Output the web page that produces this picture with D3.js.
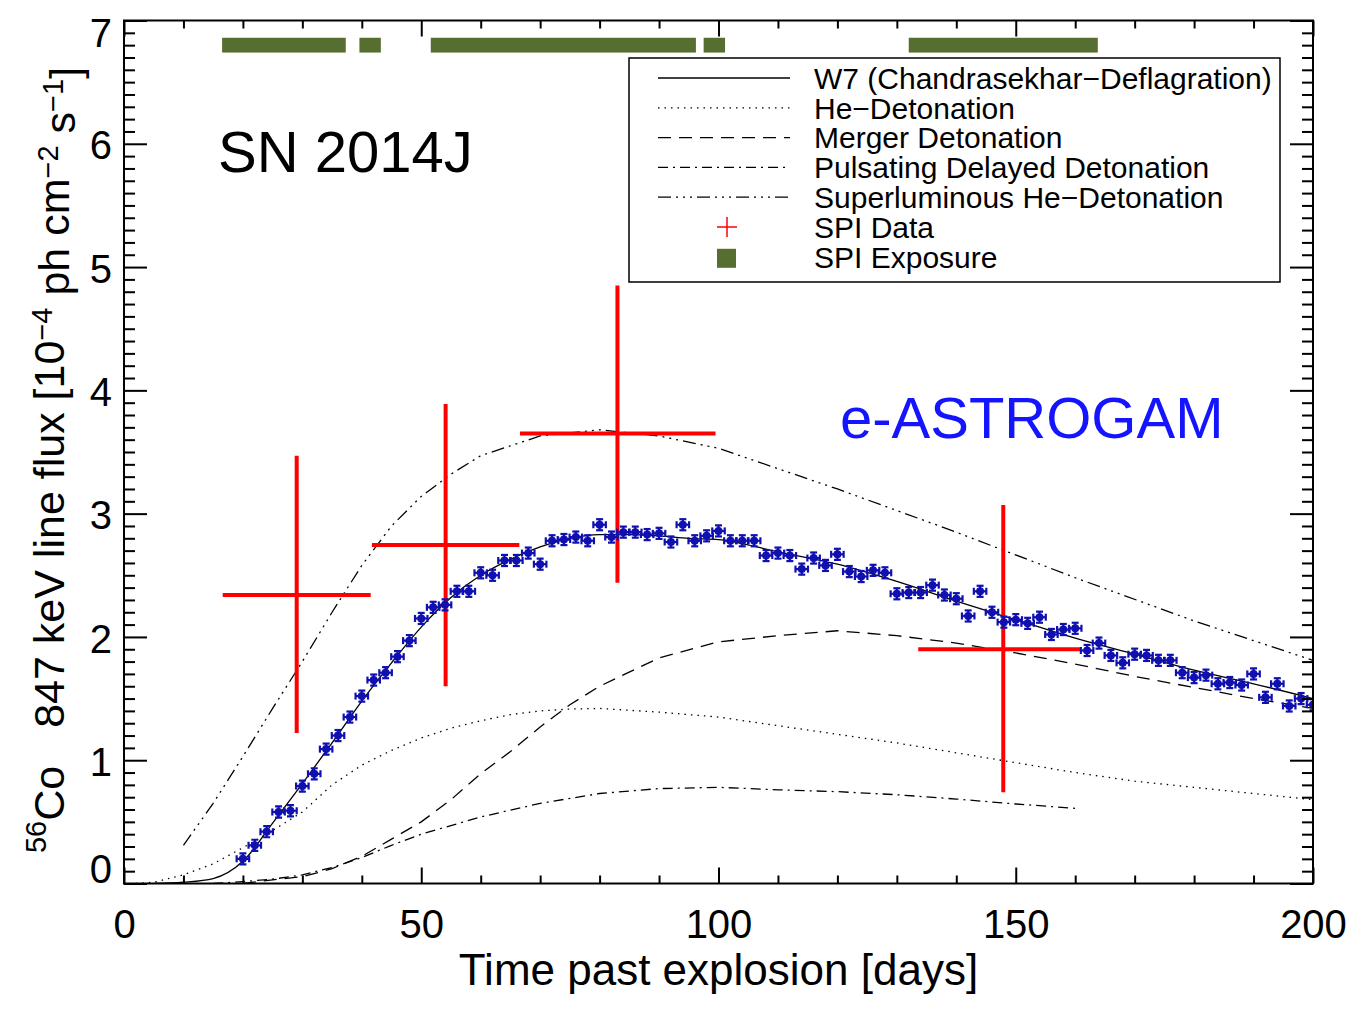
<!DOCTYPE html>
<html>
<head>
<meta charset="utf-8">
<script src="https://cdn.jsdelivr.net/npm/d3@7"></script>
<style>
  body { margin: 0; background: #fff; }
  svg { font-family: 'Liberation Sans', Arial, Helvetica, sans-serif; }
</style>
</head>
<body>
<div id="chart"></div>
<script>
'use strict';

// ---- data ----
// e-ASTROGAM simulated points (days past explosion, flux in 1e-4 ph/cm2/s)
const astroDays = [20, 22, 24, 26, 28, 30, 32, 34, 36, 38, 40, 42, 44, 46, 48, 50, 52, 54, 56, 58,
  60, 62, 64, 66, 68, 70, 72, 74, 76, 78, 80, 82, 84, 86, 88, 90, 92, 94, 96, 98,
  100, 102, 104, 106, 108, 110, 112, 114, 116, 118, 120, 122, 124, 126, 128, 130, 132, 134, 136, 138,
  140, 142, 144, 146, 148, 150, 152, 154, 156, 158, 160, 162, 164, 166, 168, 170, 172, 174, 176, 178,
  180, 182, 184, 186, 188, 190, 192, 194, 196, 198, 200];
const astroFlux = [0.20, 0.31, 0.42, 0.58, 0.59, 0.79, 0.89, 1.09, 1.20, 1.35, 1.52, 1.65, 1.71, 1.84, 1.97, 2.15, 2.24, 2.26, 2.37, 2.37,
  2.52, 2.50, 2.62, 2.62, 2.68, 2.59, 2.78, 2.79, 2.81, 2.78, 2.91, 2.81, 2.85, 2.85, 2.83, 2.84, 2.77, 2.91, 2.78, 2.82,
  2.86, 2.78, 2.78, 2.78, 2.66, 2.68, 2.66, 2.55, 2.64, 2.58, 2.67, 2.53, 2.49, 2.54, 2.52, 2.35, 2.36, 2.36, 2.42, 2.34,
  2.31, 2.17, 2.37, 2.20, 2.12, 2.14, 2.11, 2.16, 2.02, 2.06, 2.07, 1.89, 1.95, 1.85, 1.79, 1.86, 1.85, 1.81, 1.81, 1.71,
  1.67, 1.69, 1.62, 1.63, 1.61, 1.70, 1.51, 1.62, 1.44, 1.50, 1.45];
const astroDayErr = 1.05;
const astroFluxErr = 0.045;

// SPI measurements
const spiDay = [29.05, 54.1, 83.0, 147.9];
const spiDayLo = [16.6, 41.7, 66.6, 133.6];
const spiDayHi = [41.5, 66.5, 99.5, 160.8];
const spiFlux = [2.34, 2.745, 3.65, 1.90];
const spiFluxLo = [1.22, 1.60, 2.44, 0.74];
const spiFluxHi = [3.47, 3.89, 4.85, 3.07];

// SPI exposure periods (days)
const expStart = [16.5, 39.6, 51.6, 97.5, 132.0];
const expEnd = [37.3, 43.2, 96.2, 101.1, 163.8];
const expLevel = 6.8;

// model curves
const w7Days = [5, 10, 15, 20, 25, 30, 35, 40, 45, 50, 55, 60, 65, 70, 75, 80, 85, 90, 95, 100, 110, 120, 130, 140, 150, 160, 170, 180, 190, 200];
const w7Flux = [0, 0.01, 0.04, 0.18, 0.49, 0.81, 1.14, 1.48, 1.79, 2.08, 2.32, 2.50, 2.63, 2.73, 2.80, 2.83, 2.83, 2.82, 2.80, 2.79, 2.69, 2.59, 2.45, 2.29, 2.14, 1.99, 1.86, 1.73, 1.62, 1.50];

const heDays = [2, 5, 10, 15, 20, 25, 30, 35, 40, 45, 50, 55, 60, 65, 70, 75, 80, 90, 100, 110, 120, 130, 140, 150, 160, 170, 180, 190, 200];
const heFlux = [0, 0.01, 0.07, 0.16, 0.29, 0.43, 0.58, 0.80, 0.96, 1.08, 1.18, 1.26, 1.32, 1.37, 1.40, 1.415, 1.42, 1.39, 1.35, 1.28, 1.21, 1.14, 1.06, 0.98, 0.90, 0.83, 0.78, 0.73, 0.68];

const mergerDays = [20, 25, 30, 35, 40, 45, 50, 55, 60, 65, 70, 75, 80, 90, 100, 110, 120, 130, 140, 150, 160, 170, 180, 190, 200];
const mergerFlux = [0, 0.03, 0.055, 0.12, 0.22, 0.36, 0.50, 0.68, 0.89, 1.07, 1.27, 1.45, 1.60, 1.83, 1.96, 2.01, 2.05, 2.01, 1.95, 1.87, 1.78, 1.68, 1.59, 1.50, 1.42];

const pddDays = [15, 20, 25, 30, 35, 40, 45, 50, 55, 60, 70, 80, 90, 100, 110, 120, 130, 140, 150, 160];
const pddFlux = [0, 0.015, 0.035, 0.07, 0.13, 0.21, 0.31, 0.40, 0.47, 0.54, 0.65, 0.73, 0.77, 0.78, 0.76, 0.745, 0.72, 0.685, 0.645, 0.61];

const slDays = [10, 15, 20, 25, 30, 35, 40, 45, 50, 55, 60, 70, 80, 90, 100, 120, 140, 160, 180, 200];
const slFlux = [0.31, 0.65, 1.03, 1.42, 1.80, 2.20, 2.58, 2.90, 3.14, 3.32, 3.47, 3.63, 3.68, 3.63, 3.53, 3.20, 2.85, 2.48, 2.13, 1.81];

// axis ticks
const xMajor = [0, 50, 100, 150, 200];
const yMajor = [0, 1, 2, 3, 4, 5, 6, 7];

const legendLabels = ['W7 (Chandrasekhar\u2212Deflagration)', 'He\u2212Detonation', 'Merger Detonation',
  'Pulsating Delayed Detonation', 'Superluminous He\u2212Detonation', 'SPI Data', 'SPI Exposure'];

// ---- layout ----
const width = 1359, height = 1017;
const plot = { left: 124, right: 1313, top: 20.5, bottom: 883.5 };
const blue = '#1010b0';
const green = '#566e30';

const svg = d3.select('#chart').append('svg')
  .attr('width', width)
  .attr('height', height);

const x = d3.scaleLinear().domain([0, 200]).range([plot.left, plot.right]);
const y = d3.scaleLinear().domain([0, 7]).range([plot.bottom, plot.top]);

svg.append('clipPath').attr('id', 'clip')
  .append('rect')
  .attr('x', plot.left).attr('y', plot.top)
  .attr('width', plot.right - plot.left).attr('height', plot.bottom - plot.top);

const models = [
  { days: w7Days, flux: w7Flux, dash: null, curve: d3.curveMonotoneX },
  { days: heDays, flux: heFlux, dash: '1.5,5', curve: d3.curveLinear },
  { days: mergerDays, flux: mergerFlux, dash: '13,8', curve: d3.curveLinear },
  { days: pddDays, flux: pddFlux, dash: '10,5,2,5', curve: d3.curveLinear },
  { days: slDays, flux: slFlux, dash: '13,5,2,5,2,5,2,5', curve: d3.curveLinear }
];

const dataG = svg.append('g').attr('clip-path', 'url(#clip)');

// exposure bars
dataG.append('g')
  .selectAll('rect')
  .data(expStart.map((s, i) => ({ s: s, e: expEnd[i] })))
  .join('rect')
  .attr('x', d => x(d.s))
  .attr('width', d => x(d.e) - x(d.s))
  .attr('y', y(expLevel + 0.06))
  .attr('height', y(expLevel - 0.06) - y(expLevel + 0.06))
  .attr('fill', green);

// model lines
models.forEach(m => {
  const line = d3.line()
    .x((d, i) => x(m.days[i]))
    .y(d => y(d))
    .curve(m.curve);
  dataG.append('path')
    .datum(m.flux)
    .attr('d', line)
    .attr('fill', 'none')
    .attr('stroke', '#000')
    .attr('stroke-width', 1.3)
    .attr('stroke-dasharray', m.dash);
});

// SPI crosses
const spi = spiDay.map((d, i) => ({ d: d, lo: spiDayLo[i], hi: spiDayHi[i], v: spiFlux[i], vlo: spiFluxLo[i], vhi: spiFluxHi[i] }));
const spiG = dataG.append('g').attr('stroke', '#ff0000').attr('stroke-width', 4);
spiG.selectAll('.h').data(spi).join('line').attr('class', 'h')
  .attr('x1', d => x(d.lo)).attr('x2', d => x(d.hi))
  .attr('y1', d => y(d.v)).attr('y2', d => y(d.v));
spiG.selectAll('.v').data(spi).join('line').attr('class', 'v')
  .attr('x1', d => x(d.d)).attr('x2', d => x(d.d))
  .attr('y1', d => y(d.vlo)).attr('y2', d => y(d.vhi));

// e-ASTROGAM points
const pts = astroDays.map((d, i) => ({ d: d, v: astroFlux[i] }));
const ptG = dataG.append('g').attr('stroke', blue).attr('fill', blue).attr('stroke-width', 2.2);
const pt = ptG.selectAll('g').data(pts).join('g');
pt.append('line')
  .attr('x1', d => x(d.d - astroDayErr)).attr('x2', d => x(d.d + astroDayErr))
  .attr('y1', d => y(d.v)).attr('y2', d => y(d.v));
pt.append('line')
  .attr('x1', d => x(d.d)).attr('x2', d => x(d.d))
  .attr('y1', d => y(d.v - astroFluxErr)).attr('y2', d => y(d.v + astroFluxErr));
// caps
pt.append('line')
  .attr('x1', d => x(d.d) - 3.5).attr('x2', d => x(d.d) + 3.5)
  .attr('y1', d => y(d.v - astroFluxErr)).attr('y2', d => y(d.v - astroFluxErr));
pt.append('line')
  .attr('x1', d => x(d.d) - 3.5).attr('x2', d => x(d.d) + 3.5)
  .attr('y1', d => y(d.v + astroFluxErr)).attr('y2', d => y(d.v + astroFluxErr));
pt.append('line')
  .attr('x1', d => x(d.d - astroDayErr)).attr('x2', d => x(d.d - astroDayErr))
  .attr('y1', d => y(d.v) - 3.5).attr('y2', d => y(d.v) + 3.5);
pt.append('line')
  .attr('x1', d => x(d.d + astroDayErr)).attr('x2', d => x(d.d + astroDayErr))
  .attr('y1', d => y(d.v) - 3.5).attr('y2', d => y(d.v) + 3.5);
pt.append('circle')
  .attr('cx', d => x(d.d)).attr('cy', d => y(d.v)).attr('r', 4)
  .attr('stroke', 'none');

// ---- axes (ticks inside, IDL style) ----
const xMinor = d3.range(0, 201, 10).filter(v => !xMajor.includes(v));
const yMinor = d3.range(0, 70.5, 1).map(v => v / 10).filter(v => !yMajor.includes(v));

function styleAxis(g){
  g.select('.domain').remove();
  g.selectAll('.tick line').attr('stroke', '#000').attr('stroke-width', 2);
  g.selectAll('.tick text').attr('fill', '#000');
}

const xAxisG = svg.append('g')
  .attr('transform', `translate(0,${plot.bottom})`)
  .style('font-size', '40px')
  .call(d3.axisBottom(x).tickValues(xMajor).tickSize(-16).tickPadding(26).tickFormat(d3.format('d')))
  .call(styleAxis);
xAxisG.selectAll('.tick text').attr('dy', '0.7em');

svg.append('g')
  .attr('transform', `translate(0,${plot.bottom})`)
  .call(d3.axisBottom(x).tickValues(xMinor).tickSize(-8).tickFormat(''))
  .call(styleAxis);
svg.append('g')
  .attr('transform', `translate(0,${plot.top})`)
  .call(d3.axisTop(x).tickValues(xMajor).tickSize(-16).tickFormat(''))
  .call(styleAxis);
svg.append('g')
  .attr('transform', `translate(0,${plot.top})`)
  .call(d3.axisTop(x).tickValues(xMinor).tickSize(-8).tickFormat(''))
  .call(styleAxis);

const yAxisG = svg.append('g')
  .attr('transform', `translate(${plot.left},0)`)
  .style('font-size', '40px')
  .call(d3.axisLeft(y).tickValues(yMajor).tickSize(-23).tickPadding(12).tickFormat(d3.format('d')))
  .call(styleAxis);
yAxisG.selectAll('.tick text')
  .attr('dy', d => d === 0 ? '-0.02em' : (d === 7 ? '0.66em' : '0.38em'));

svg.append('g')
  .attr('transform', `translate(${plot.left},0)`)
  .call(d3.axisLeft(y).tickValues(yMinor).tickSize(-11).tickFormat(''))
  .call(styleAxis);
svg.append('g')
  .attr('transform', `translate(${plot.right},0)`)
  .call(d3.axisRight(y).tickValues(yMajor).tickSize(-23).tickFormat(''))
  .call(styleAxis);
svg.append('g')
  .attr('transform', `translate(${plot.right},0)`)
  .call(d3.axisRight(y).tickValues(yMinor).tickSize(-11).tickFormat(''))
  .call(styleAxis);

// frame
svg.append('rect')
  .attr('x', plot.left).attr('y', plot.top)
  .attr('width', plot.right - plot.left).attr('height', plot.bottom - plot.top)
  .attr('fill', 'none').attr('stroke', '#000').attr('stroke-width', 2);

// axis titles
svg.append('text')
  .attr('x', (plot.left + plot.right) / 2)
  .attr('y', 985)
  .attr('text-anchor', 'middle')
  .style('font-size', '44px')
  .text('Time past explosion [days]');

const yTitle = svg.append('text')
  .attr('transform', 'translate(58,460) rotate(-90)')
  .attr('text-anchor', 'middle')
  .style('font-size', '43px');
yTitle.append('tspan').attr('dy', '-0.4em').style('font-size', '29px').text('56');
yTitle.append('tspan').attr('dy', '0.4em').text('Co');
yTitle.append('tspan').attr('dx', 38).text('847 keV line flux [10');
yTitle.append('tspan').attr('dy', '-0.4em').style('font-size', '29px').text('\u22124');
yTitle.append('tspan').attr('dy', '0.4em').text(' ph cm');
yTitle.append('tspan').attr('dy', '-0.4em').style('font-size', '29px').text('\u22122');
yTitle.append('tspan').attr('dy', '0.4em').text(' s');
yTitle.append('tspan').attr('dy', '-0.4em').style('font-size', '29px').text('\u22121');
yTitle.append('tspan').attr('dy', '0.4em').text(']');

// annotations
svg.append('text')
  .attr('x', 218).attr('y', 172)
  .style('font-size', '58px')
  .text('SN 2014J');

svg.append('text')
  .attr('x', 840).attr('y', 438)
  .style('font-size', '58px')
  .attr('fill', '#1414ff')
  .text('e-ASTROGAM');

// ---- legend ----
const legend = { x: 629, y: 58, w: 651, h: 224, row0: 78, step: 29.8 };
svg.append('rect')
  .attr('x', legend.x).attr('y', legend.y)
  .attr('width', legend.w).attr('height', legend.h)
  .attr('fill', '#fff').attr('stroke', '#000').attr('stroke-width', 1.5);

const legRows = svg.append('g')
  .selectAll('g')
  .data(legendLabels)
  .join('g')
  .attr('transform', (d, i) => `translate(0,${legend.row0 + i * legend.step})`);

legRows.append('text')
  .attr('x', 814)
  .attr('dy', '0.36em')
  .style('font-size', '30px')
  .text(d => d);

legRows.filter((d, i) => i < models.length)
  .append('line')
  .attr('x1', 658).attr('x2', 790)
  .attr('stroke', '#000').attr('stroke-width', 1.3)
  .attr('stroke-dasharray', (d, i) => models[i].dash);

const spiRow = legRows.filter((d, i) => i === 5);
spiRow.append('line').attr('x1', 717).attr('x2', 737).attr('stroke', '#ff0000').attr('stroke-width', 1.5);
spiRow.append('line').attr('x1', 727).attr('x2', 727).attr('y1', -10).attr('y2', 10).attr('stroke', '#ff0000').attr('stroke-width', 1.5);

legRows.filter((d, i) => i === 6)
  .append('rect')
  .attr('x', 717).attr('y', -8).attr('width', 19).attr('height', 19)
  .attr('fill', green);
</script>
</body>
</html>
